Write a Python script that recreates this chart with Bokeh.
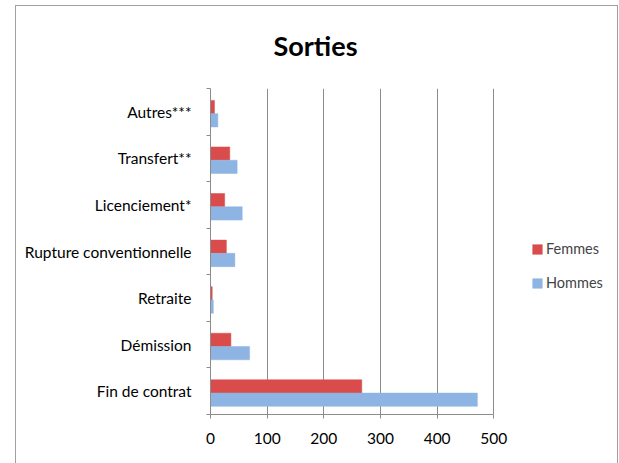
from bokeh.plotting import figure
from bokeh.models import FixedTicker, Legend, LegendItem, InlineStyleSheet
from bokeh.embed import file_html
from bokeh.resources import INLINE

# categories from bottom to top
categories = ["Fin de contrat", "Démission", "Retraite", "Rupture conventionnelle",
              "Licenciement*", "Transfert**", "Autres***"]
femmes = [267, 36, 3, 28, 25, 34, 7]
hommes = [471, 69, 5, 43, 56, 47, 13]
x_ticks = [0, 100, 200, 300, 400, 500]

FONT = "Lato"
RED = "#DA4C4C"
BLUE = "#8EB4E3"
GRAY = "#8C8C8C"

W, H = 619, 463
LEFT, TOP, BOTTOM = 210, 87, 49
AXIS_PX = 283.3          # pixel length of the 0..500 axis
frame_w = W - LEFT
x_end = x_ticks[-1] * frame_w / AXIS_PX   # extend frame so legend fits inside

n = len(categories)
centers = [i + 0.5 for i in range(n)]
bar_h = 0.285
shift = -0.04
y_f = [c + shift + bar_h / 2 for c in centers]
y_h = [c + shift - bar_h / 2 for c in centers]

p = figure(width=W, height=H, output_backend="svg", toolbar_location=None,
           x_range=(0, x_end), y_range=(0, n),
           min_border_left=LEFT, min_border_right=0, min_border_top=TOP, min_border_bottom=BOTTOM)

p.title.text = "Sorties"
p.title.text_font = FONT
p.title.text_font_size = "27px"
p.title.text_font_style = "bold"
p.title.align = "left"
p.title.offset = 63
p.title.standoff = 53
p.title.text_color = "black"

rf = p.hbar(y=y_f, right=femmes, left=0, height=bar_h, fill_color=RED, line_color=RED, line_width=0.5)
rh = p.hbar(y=y_h, right=hommes, left=0, height=bar_h, fill_color=BLUE, line_color=BLUE, line_width=0.5)

# axes
p.xaxis.ticker = FixedTicker(ticks=x_ticks)
p.xaxis.bounds = (x_ticks[0], x_ticks[-1])
p.xaxis.axis_line_color = GRAY
p.xaxis.major_tick_line_color = GRAY
p.xaxis.major_tick_out = 4
p.xaxis.major_tick_in = 0
p.xaxis.minor_tick_line_color = None
p.xaxis.major_label_text_font = FONT
p.xaxis.major_label_text_font_size = "15.5px"
p.xaxis.major_label_text_color = "black"
p.xaxis.major_label_standoff = 14

p.yaxis.ticker = FixedTicker(ticks=centers, minor_ticks=list(range(n + 1)))
p.yaxis.major_label_overrides = {c: lab for c, lab in zip(centers, categories)}
p.yaxis.axis_line_color = GRAY
p.yaxis.major_tick_line_color = None
p.yaxis.minor_tick_line_color = GRAY
p.yaxis.minor_tick_out = 4
p.yaxis.minor_tick_in = 0
p.yaxis.major_label_text_font = FONT
p.yaxis.major_label_text_font_size = "15.5px"
p.yaxis.major_label_text_color = "black"
p.yaxis.major_label_standoff = 13

p.xgrid.grid_line_color = GRAY
p.xgrid.ticker = FixedTicker(ticks=x_ticks[1:])
p.ygrid.grid_line_color = None
p.outline_line_color = None

legend = Legend(items=[LegendItem(label="Femmes", renderers=[rf]),
                       LegendItem(label="Hommes", renderers=[rh])],
                location=(321, 123), orientation="vertical",
                border_line_color=None, background_fill_alpha=0,
                padding=0, margin=0, spacing=17,
                glyph_width=12, glyph_height=12, label_height=12,
                label_standoff=3, label_text_font=FONT, label_text_font_size="14.5px")
p.add_layout(legend, "center")

p.stylesheets = [InlineStyleSheet(css="""
:host { position: relative; overflow: hidden; }
:host::after { content: ''; position: absolute; left: 15px; top: 5px; right: 1px; bottom: 0px;
  border-style: solid; border-color: #A0A0A0; border-width: 1px 1px 0 1px;
  pointer-events: none; z-index: 10; }
""")]

open("out.html", "w").write(file_html(p, INLINE))
